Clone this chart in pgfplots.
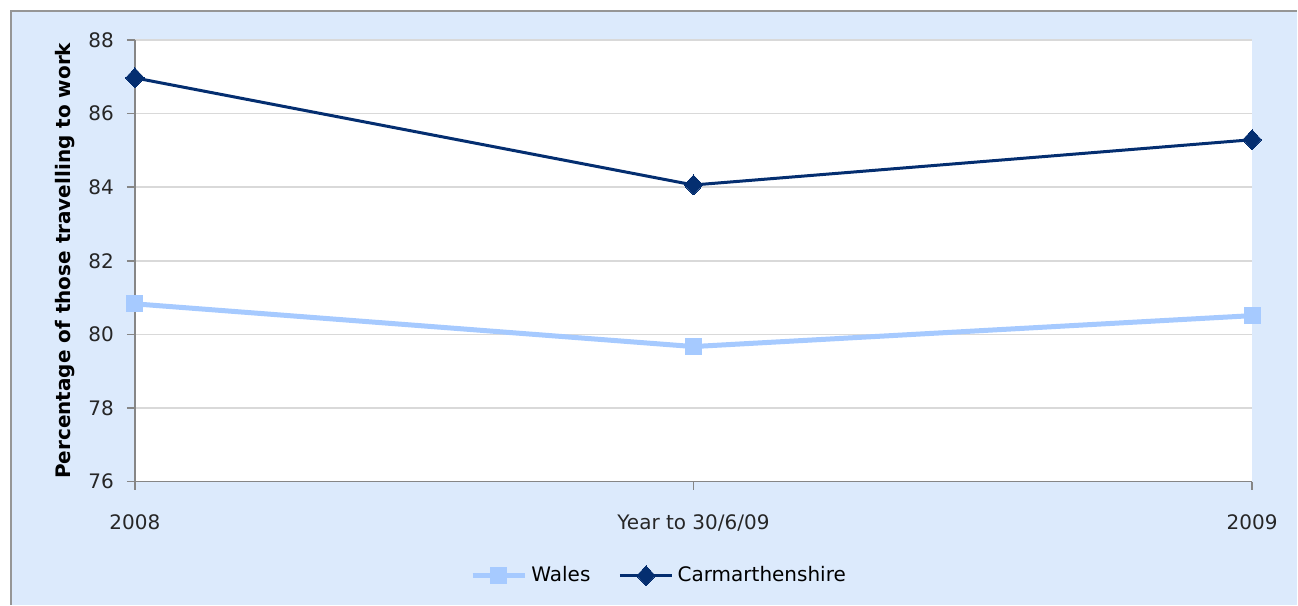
\documentclass[border=0pt]{standalone}
\usepackage{pgfplots}
\pgfplotsset{compat=1.18}
\usepackage{fontspec}
\setmainfont{DejaVu Sans}
\definecolor{bgblue}{RGB}{220,234,252}
\definecolor{framegray}{RGB}{150,150,150}
\definecolor{axisgray}{RGB}{134,134,134}
\definecolor{gridgray}{RGB}{217,217,217}
\definecolor{walesblue}{RGB}{166,202,255}
\definecolor{carmnavy}{RGB}{4,46,112}

\begin{document}
\begin{tikzpicture}
% page and chart area
\fill[white] (0,0) rectangle (649pt,302.5pt);
\fill[bgblue] (5.5pt,0) rectangle (649pt,297pt);
\draw[framegray, line width=1pt] (5.5pt,0) -- (5.5pt,297pt) -- (649pt,297pt);
\begin{axis}[
    at={(67.5pt,61.5pt)}, anchor=south west,
    width=559pt, height=221pt, scale only axis,
    xmin=0, xmax=2, ymin=76, ymax=88,
    xtick={0,1,2},
    xticklabels={2008,Year to 30/6/09,2009},
    ytick={76,78,...,88},
    axis background/.style={fill=white},
    axis x line*=bottom, axis y line*=left,
    axis line style={axisgray, line width=0.8pt, -},
    tick style={axisgray, line width=0.8pt},
    tick align=outside, major tick length=4pt,
    ymajorgrids, grid style={gridgray, line width=0.8pt},
    font=\fontsize{10}{12}\selectfont,
    tick label style={font=\fontsize{10}{12}\selectfont, text=black!85},
    /pgf/number format/assume math mode=true,
    xticklabel style={yshift=-9pt},
    yticklabel style={xshift=-3pt},
    ylabel={\bfseries Percentage of those travelling to work},
    ylabel style={font=\fontsize{10}{12}\selectfont, yshift=0pt},
    legend style={at={(0.47,-0.213)}, anchor=center, draw=none, fill=none,
        legend columns=2, font=\fontsize{10}{12}\selectfont,
        /tikz/every even column/.append style={column sep=12pt}},
    legend image code/.code={
        \draw[mark repeat=2, mark phase=2]
        plot coordinates {(0cm,0cm) (0.46cm,0cm) (0.92cm,0cm)};},
    legend cell align=left,
    clip=false,
]
\addplot[walesblue, line width=2.5pt, mark=square*, mark size=4pt,
    mark options={solid, fill=walesblue, draw=walesblue, line width=0pt}]
coordinates {(0,80.83) (1,79.67) (2,80.51)};
\addlegendentry{Wales}
\addplot[carmnavy, line width=1.5pt, mark=diamond*, mark size=5pt,
    mark options={solid, xscale=1.25, fill=carmnavy, draw=carmnavy, line width=0pt}]
coordinates {(0,86.97) (1,84.06) (2,85.29)};
\addlegendentry{Carmarthenshire}
\end{axis}
\end{tikzpicture}
\end{document}
